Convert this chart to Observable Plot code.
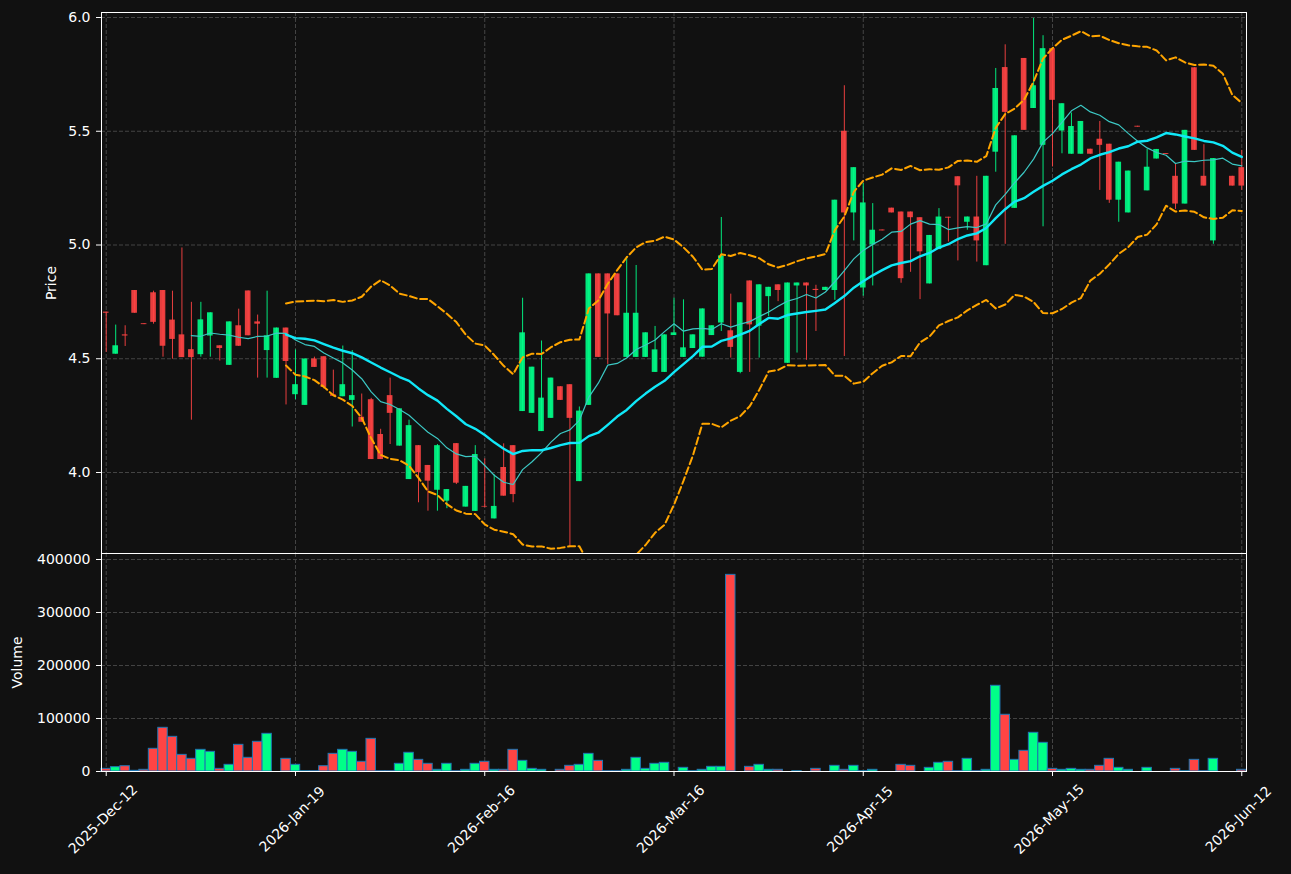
<!DOCTYPE html>
<html><head><meta charset="utf-8">
<script src="https://cdn.jsdelivr.net/npm/d3@7"></script>
<script src="https://cdn.jsdelivr.net/npm/@observablehq/plot@0.6"></script>
<style>
html,body{margin:0;padding:0;background:#111111;}
#wrap{position:relative;width:1291px;height:874px;background:#111111;overflow:hidden;}
#price,#vol{position:absolute;left:0;}
#price{top:0;}
#vol{top:553px;}
svg{overflow:visible;}
</style></head><body>
<div id="wrap"><div id="price"></div><div id="vol"></div></div>
<script>
// ---- data ----
const opens = [4.705,4.52,4.605,4.80,4.654,4.79,4.80,4.67,4.605,4.54,
4.518,4.60,4.557,4.471,4.645,4.798,4.662,4.536,4.414,4.635,
4.342,4.295,4.499,4.509,4.342,4.333,4.317,4.243,4.32,4.167,
4.338,4.116,3.969,4.118,4.031,3.922,3.874,4.127,3.848,3.829,
3.851,3.796,4.022,4.118,4.268,4.26,4.18,4.238,4.377,4.386,
3.96,4.295,4.873,4.873,4.873,4.506,4.506,4.506,4.44,4.44,
4.602,4.506,4.545,4.507,4.602,4.657,4.623,4.44,4.842,4.643,
4.773,4.825,4.48,4.82,4.833,4.805,4.80,4.80,5.50,5.141,
4.811,5.0,5.066,5.162,5.145,5.145,5.12,4.829,4.98,5.122,
5.30,5.10,5.123,4.909,5.408,5.78,5.161,5.82,5.60,5.438,
5.863,5.501,5.399,5.399,5.421,5.465,5.443,5.197,5.141,5.522,
5.238,5.378,5.402,5.302,5.18,5.779,5.302,5.018,5.40,5.302,5.34];
const highs = [4.705,4.648,4.645,4.80,4.654,4.797,4.80,4.797,4.987,4.748,
4.748,4.702,4.557,4.662,4.718,4.798,4.692,4.797,4.635,4.635,
4.539,4.499,4.507,4.509,4.45,4.556,4.536,4.345,4.326,4.19,
4.415,4.28,4.23,4.118,4.031,4.123,3.925,4.127,3.939,4.118,
4.06,3.99,4.126,4.118,4.766,4.463,4.578,4.415,4.377,4.386,
4.288,4.873,4.873,4.873,4.873,4.949,4.91,4.614,4.642,4.605,
4.766,4.759,4.605,4.719,4.645,5.121,4.784,4.746,4.842,4.825,
4.814,4.825,4.833,4.833,4.833,4.823,4.814,5.197,5.70,5.34,
5.27,5.182,5.066,5.162,5.145,5.145,5.12,5.042,5.16,5.122,
5.30,5.123,5.302,5.302,5.776,5.88,5.48,5.82,5.996,5.92,
5.863,5.621,5.58,5.543,5.421,5.543,5.443,5.364,5.325,5.522,
5.42,5.42,5.402,5.358,5.504,5.779,5.441,5.38,5.40,5.302,5.416];
const lows = [4.528,4.52,4.554,4.70,4.650,4.652,4.507,4.498,4.506,4.23,
4.507,4.507,4.49,4.471,4.554,4.601,4.415,4.415,4.414,4.297,
4.32,4.295,4.462,4.367,4.335,4.333,4.20,4.221,4.057,4.057,
4.123,4.116,3.969,3.867,3.83,3.83,3.841,3.947,3.848,3.829,
3.845,3.796,3.896,3.867,4.268,4.26,4.18,4.238,4.317,3.67,
3.96,4.295,4.506,4.475,4.689,4.506,4.506,4.506,4.44,4.44,
4.602,4.506,4.545,4.507,4.602,4.62,4.503,4.434,4.44,4.503,
4.686,4.751,4.48,4.525,4.493,4.62,4.80,4.757,4.51,5.018,
4.775,4.82,5.062,5.141,4.832,4.88,4.76,4.829,4.98,5.013,
4.93,5.065,4.925,4.909,5.32,5.003,5.161,5.504,5.60,5.08,
5.343,5.401,5.399,5.399,5.399,5.24,5.183,5.10,5.141,5.518,
5.238,5.378,5.398,5.156,5.18,5.416,5.259,5.003,5.40,5.259,5.24];
const closes = [4.70,4.557,4.60,4.70,4.650,4.66,4.555,4.585,4.505,4.505,
4.671,4.702,4.545,4.662,4.555,4.601,4.652,4.601,4.635,4.488,
4.386,4.499,4.462,4.374,4.335,4.386,4.338,4.221,4.057,4.057,
4.26,4.28,4.206,4.0,3.962,4.118,3.925,3.953,3.939,4.079,
3.848,3.851,3.896,3.903,4.614,4.463,4.327,4.415,4.317,4.238,
4.27,4.873,4.506,4.697,4.689,4.70,4.70,4.614,4.539,4.605,
4.614,4.548,4.605,4.719,4.645,4.952,4.55,4.746,4.649,4.825,
4.814,4.80,4.833,4.833,4.82,4.80,4.814,5.197,5.141,5.34,
5.185,5.065,5.062,5.141,4.852,5.12,4.97,5.042,5.123,5.118,
5.26,5.123,5.018,5.302,5.688,5.583,5.48,5.504,5.70,5.863,
5.636,5.621,5.521,5.543,5.399,5.438,5.197,5.364,5.325,5.518,
5.342,5.42,5.398,5.18,5.504,5.416,5.259,5.38,5.40,5.259,5.259];
const volumes = [5000,8200,10000,1300,3200,42800,82400,65400,31400,23900,
40900,37100,5000,12600,50300,25800,56000,71100,null,23900,
12600,500,500,10000,33300,40900,37100,18300,61600,500,
500,14500,35300,22000,14500,3200,14500,500,3200,14500,
18300,3200,3200,40900,20100,5000,3200,null,3200,10700,
12600,33300,20100,500,500,3200,25800,5000,14500,16400,
null,6900,500,3200,8800,8800,371000,null,8800,12600,
3200,3200,null,500,null,5000,null,10700,3200,10700,
500,3200,null,null,12600,10700,null,6900,16400,18300,
500,23900,500,3200,161700,107000,22000,39000,73000,54100,
5000,3200,5000,3200,3200,10700,23900,6900,3200,null,
6900,null,null,5000,500,22000,500,23900,null,null,3200];
const tickIndex = [0,20,40,60,80,100,120];
const tickLabels = ["2025-Dec-12","2026-Jan-19","2026-Feb-16","2026-Mar-16","2026-Apr-15","2026-May-15","2026-Jun-12"];
const priceTicks = [4.0,4.5,5.0,5.5,6.0];
const volumeTicks = [0,100000,200000,300000,400000];

// ---- derived table ----
const bars = opens.map((o,i)=>({i, open:o, high:highs[i], low:lows[i], close:closes[i], volume:volumes[i], up: closes[i] >= o}));
function rolling(values, k, f){ return values.map((_,i)=> i < k-1 ? NaN : f(values.slice(i-k+1,i+1))); }
const ma10 = rolling(closes,10,d3.mean);
const ma20 = rolling(closes,20,d3.mean);
const sd20 = rolling(closes,20,d3.deviation);
const ind = bars.map((d,i)=>({i, ma10:ma10[i], ma20:ma20[i], upper:ma20[i]+2*sd20[i], lower:ma20[i]-2*sd20[i]}));

const UP = "#00ff88", DOWN = "#ff4444", GRID = "#444444";
const up = bars.filter(d=>d.up), down = bars.filter(d=>!d.up);
const FONT = "DejaVu Sans, sans-serif";
const xScale = {type:"band", domain:d3.range(opens.length), padding:0, round:false};
const common = {width:1291, marginLeft:101, marginRight:45,
  style:{background:"transparent", color:"white", fontSize:"14px", fontFamily:FONT, overflow:"visible"}};

const price = Plot.plot({
  ...common, height:553, marginTop:12, marginBottom:0,
  x:{...xScale, axis:null},
  y:{domain:[3.644,6.022], ticks:priceTicks, tickFormat:".1f", tickSize:5, tickPadding:6, label:null},
  marks:[
    Plot.ruleY(priceTicks,{y:d=>d, stroke:GRID, strokeDasharray:"4,2"}),
    Plot.ruleX(tickIndex,{x:d=>d, stroke:GRID, strokeDasharray:"4,2"}),
    Plot.ruleX(up,{x:"i", y1:"low", y2:"high", stroke:UP, strokeOpacity:0.9, strokeWidth:1}),
    Plot.ruleX(down,{x:"i", y1:"low", y2:"high", stroke:DOWN, strokeOpacity:0.9, strokeWidth:1}),
    Plot.barY(up,{x:"i", y1:"open", y2:"close", fill:UP, fillOpacity:0.9, insetLeft:1.9, insetRight:1.9}),
    Plot.barY(down,{x:"i", y1:"open", y2:"close", fill:DOWN, fillOpacity:0.9, insetLeft:1.9, insetRight:1.9}),
    Plot.line(ind,{x:"i", y:"upper", stroke:"orange", strokeWidth:2, strokeDasharray:"7,3.5", clip:true}),
    Plot.line(ind,{x:"i", y:"lower", stroke:"orange", strokeWidth:2, strokeDasharray:"7,3.5", clip:true}),
    Plot.line(ind,{x:"i", y:"ma10", stroke:"#3cc8c4", strokeWidth:1.2, clip:true}),
    Plot.line(ind,{x:"i", y:"ma20", stroke:"#10e8f8", strokeWidth:2.4, clip:true}),
    Plot.frame({stroke:"white", strokeWidth:1}),
    Plot.text(["Price"],{text:d=>d, frameAnchor:"left", dx:-50, rotate:-90, textAnchor:"middle", fill:"white", fontSize:14})
  ]
});
document.getElementById("price").appendChild(price);

const vol = Plot.plot({
  ...common, height:321, marginTop:0, marginBottom:103,
  x:{...xScale, ticks:tickIndex, tickSize:5, tickFormat:()=>"", label:null},
  y:{domain:[0,411300], ticks:volumeTicks, tickFormat:"d", tickSize:5, tickPadding:6, label:null},
  marks:[
    Plot.ruleY(volumeTicks.slice(1),{y:d=>d, stroke:GRID, strokeDasharray:"4,2"}),
    Plot.ruleX(tickIndex,{x:d=>d, stroke:GRID, strokeDasharray:"4,2"}),
    Plot.barY(up.filter(d=>d.volume!=null),{x:"i", y:"volume", fill:UP, stroke:"#1f77b4", strokeWidth:1}),
    Plot.barY(down.filter(d=>d.volume!=null),{x:"i", y:"volume", fill:DOWN, stroke:"#1f77b4", strokeWidth:1}),
    Plot.frame({stroke:"white", strokeWidth:1}),
    Plot.text(tickIndex,{x:d=>d, text:(d,i)=>tickLabels[i], frameAnchor:"bottom", dy:51, rotate:-45, textAnchor:"middle", fill:"white", fontSize:14}),
    Plot.text(["Volume"],{text:d=>d, frameAnchor:"left", dx:-84, rotate:-90, textAnchor:"middle", fill:"white", fontSize:14})
  ]
});
document.getElementById("vol").appendChild(vol);
</script>
</body></html>
